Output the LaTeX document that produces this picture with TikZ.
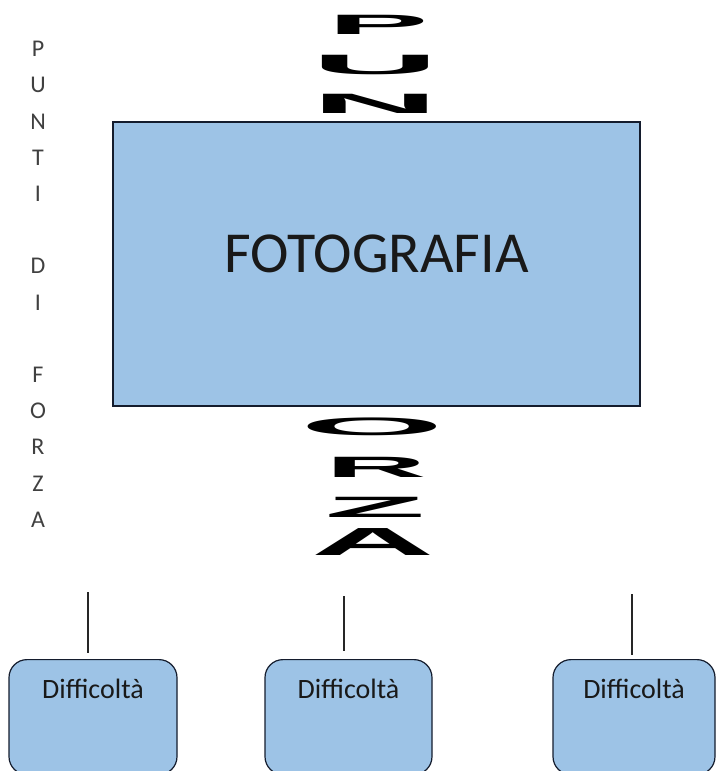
\documentclass[tikz,border=0pt]{standalone}
\usepackage{fontspec}
\setmainfont{Carlito}
\newfontfamily\wordartfont{Liberation Sans}
\usepackage{graphicx}
\usetikzlibrary{arrows.meta}
\usetikzlibrary{positioning}
\definecolor{boxblue}{RGB}{157,195,230}
\definecolor{boxline}{RGB}{20,28,45}
\newcommand{\stretched}[3]{\scalebox{#1}[#2]{\wordartfont\bfseries #3}}

\begin{document}
\begin{tikzpicture}[x=1pt,y=-1pt]

    \clip (0,0) rectangle (717,771);

    % the photo box in the middle
    \node[draw=boxline, line width=1.6pt, fill=boxblue, anchor=north,
          minimum width=527pt, inner sep=0pt, text height=151pt, text depth=133pt,
          text=black!90, font=\fontsize{58}{60}\selectfont] (foto) at (376.5,121) {FOTOGRAFIA};

    % stretched letters above and below the box
    \begin{scope}[every node/.style={inner sep=0pt, font=\fontsize{28}{30}\selectfont}]
    \node (wP) at (378,25) {\stretched{5.4}{1}{P}};
    \node (wU) at (375,65) {\stretched{6.3}{1}{U}};
    \node (wN) at (375,104) {\stretched{6.3}{1}{N}};
    \node (wO) at (372,427) {\stretched{6.6}{0.9}{O}};
    \node (wR) at (376,467) {\stretched{5.0}{1.05}{R}};
    \node (wZ) at (375,507) {\stretched{5.9}{1.05}{Z}};
    \node (wA) at (373,542) {\stretched{6.1}{1.4}{A}};
    \end{scope}

    % the column on the left
    \begin{scope}[every node/.style={anchor=base, inner sep=0pt, text=black!75,
                  font=\fontsize{24}{26}\selectfont}]
    \foreach \l [count=\i] in {P,U,N,T,I,{},D,I,{},F,O,R,Z,A}
        \node (side\i) at (38,{56.7+36.2*(\i-1)}) {\l};
    \end{scope}

    % Difficolta boxes at the bottom
    \begin{scope}[every node/.style={draw=boxline, line width=1.2pt, fill=boxblue,
                  rounded corners=18pt, anchor=north, inner sep=0pt,
                  text height=39pt, text depth=76pt, text=black!90,
                  font=\fontsize{28}{30}\selectfont}]
    \node[minimum width=168pt] (diff1) at (93,659) {Difficoltà};
    \node[minimum width=167pt] (diff2) at (348.5,659) {Difficoltà};
    \node[minimum width=162pt] (diff3) at (634,659) {Difficoltà};
    \end{scope}

    % short lines over the boxes
    \coordinate (top1) at (88,592);
    \coordinate (top2) at (344,596);
    \coordinate (top3) at (632,594);
    \begin{scope}[every edge/.style={draw=black!85, line width=1.3pt}]
    \path [-] (top1) edge[shorten >=6pt] (top1 |- diff1.north);
    \path [-] (top2) edge[shorten >=8pt] (top2 |- diff2.north);
    \path [-] (top3) edge[shorten >=4pt] (top3 |- diff3.north);
    \end{scope}

\end{tikzpicture}
\end{document}
